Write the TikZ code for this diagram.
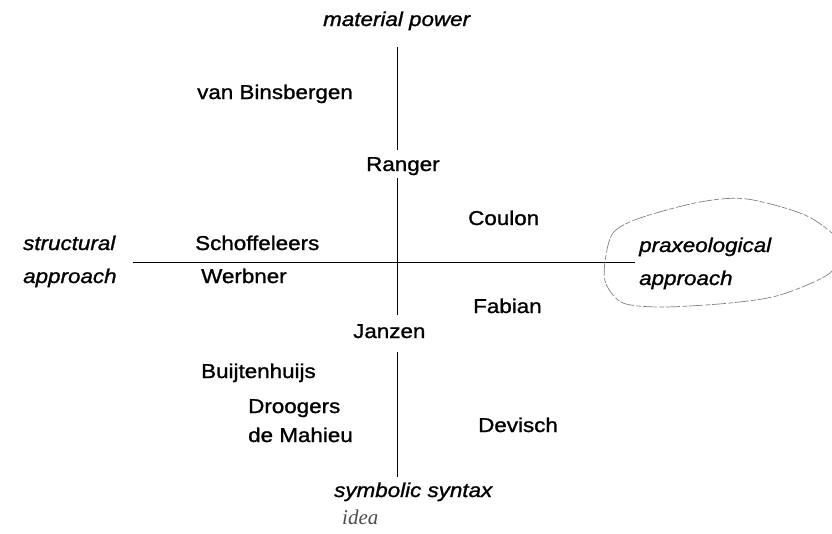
\documentclass[tikz,border=0pt]{standalone}
\usepackage{fontspec}
\setmainfont{Liberation Sans}[FakeStretch=1.12,FakeBold=1.2]
\newfontfamily\notefont{Liberation Serif}
\usetikzlibrary{calc}

\begin{document}
\begin{tikzpicture}[x=1pt,y=-1pt,
    author/.style={anchor=base west,inner sep=0pt,font=\fontsize{20}{23}\selectfont},
    pole/.style={author,font=\fontsize{20}{23}\selectfont\itshape}]
    \clip (0,0) rectangle (832,533);

    % poles of the two axes
    \node[pole] (matpow) at (323,26) {material power};
    \node[pole] (symsyn) at (334,497) {symbolic syntax};
    \node[pole] (struct) at (23,250) {structural};
    \node[pole] (structb) at (23,283) {approach};
    \node[pole] (praxeo) at (639,252) {praxeological};
    \node[pole] (praxeob) at (639,285) {approach};
    \node[author,font=\fontsize{21}{23}\notefont\itshape,text=black!70] (idea) at (342,524) {idea};

    % axis ends
    \coordinate (top) at (397,47);
    \coordinate (bot) at (397,477);
    \coordinate (west) at (133,262);
    \coordinate (east) at (635,262);

    % authors
    \node[author] (vanbins) at (197,99) {van Binsbergen};
    \node[author] (ranger) at (366,171) {Ranger};
    \node[author] (coulon) at (468,225) {Coulon};
    \node[author] (schoff) at (195,250) {Schoffeleers};
    \node[author] (werbner) at (201,283) {Werbner};
    \node[author] (fabian) at (473,313) {Fabian};
    \node[author] (janzen) at (353,338) {Janzen};
    \node[author] (buijt) at (201,378) {Buijtenhuijs};
    \node[author] (droog) at (248,413) {Droogers};
    \node[author] (mahieu) at (248,442) {de Mahieu};
    \node[author] (devisch) at (478,432) {Devisch};

    % vertical axis, broken by Ranger and Janzen
    \draw[line width=1pt] (top) -- (top |- {$(ranger.north)+(0,-7)$});
    \draw[line width=1pt] (top |- {$(ranger.south)+(0,3)$}) -- (top |- {$(janzen.north)+(0,-9)$});
    \draw[line width=1pt] (top |- {$(janzen.south)+(0,14)$}) -- (bot);

    % horizontal axis
    \draw[line width=1pt] (west) -- (east);

    % pencil ring round the praxeological pole
    \draw[black!50,line width=0.7pt,dash pattern=on 14pt off 1.5pt on 5pt off 2.5pt]
        plot[smooth cycle] coordinates {(605,262) (613,233) (640,218) (700,202) (747,199)
        (807,216) (842,245) (830,273) (780,295) (730,303) (663,307) (623,303) (606,284)};
\end{tikzpicture}
\end{document}
